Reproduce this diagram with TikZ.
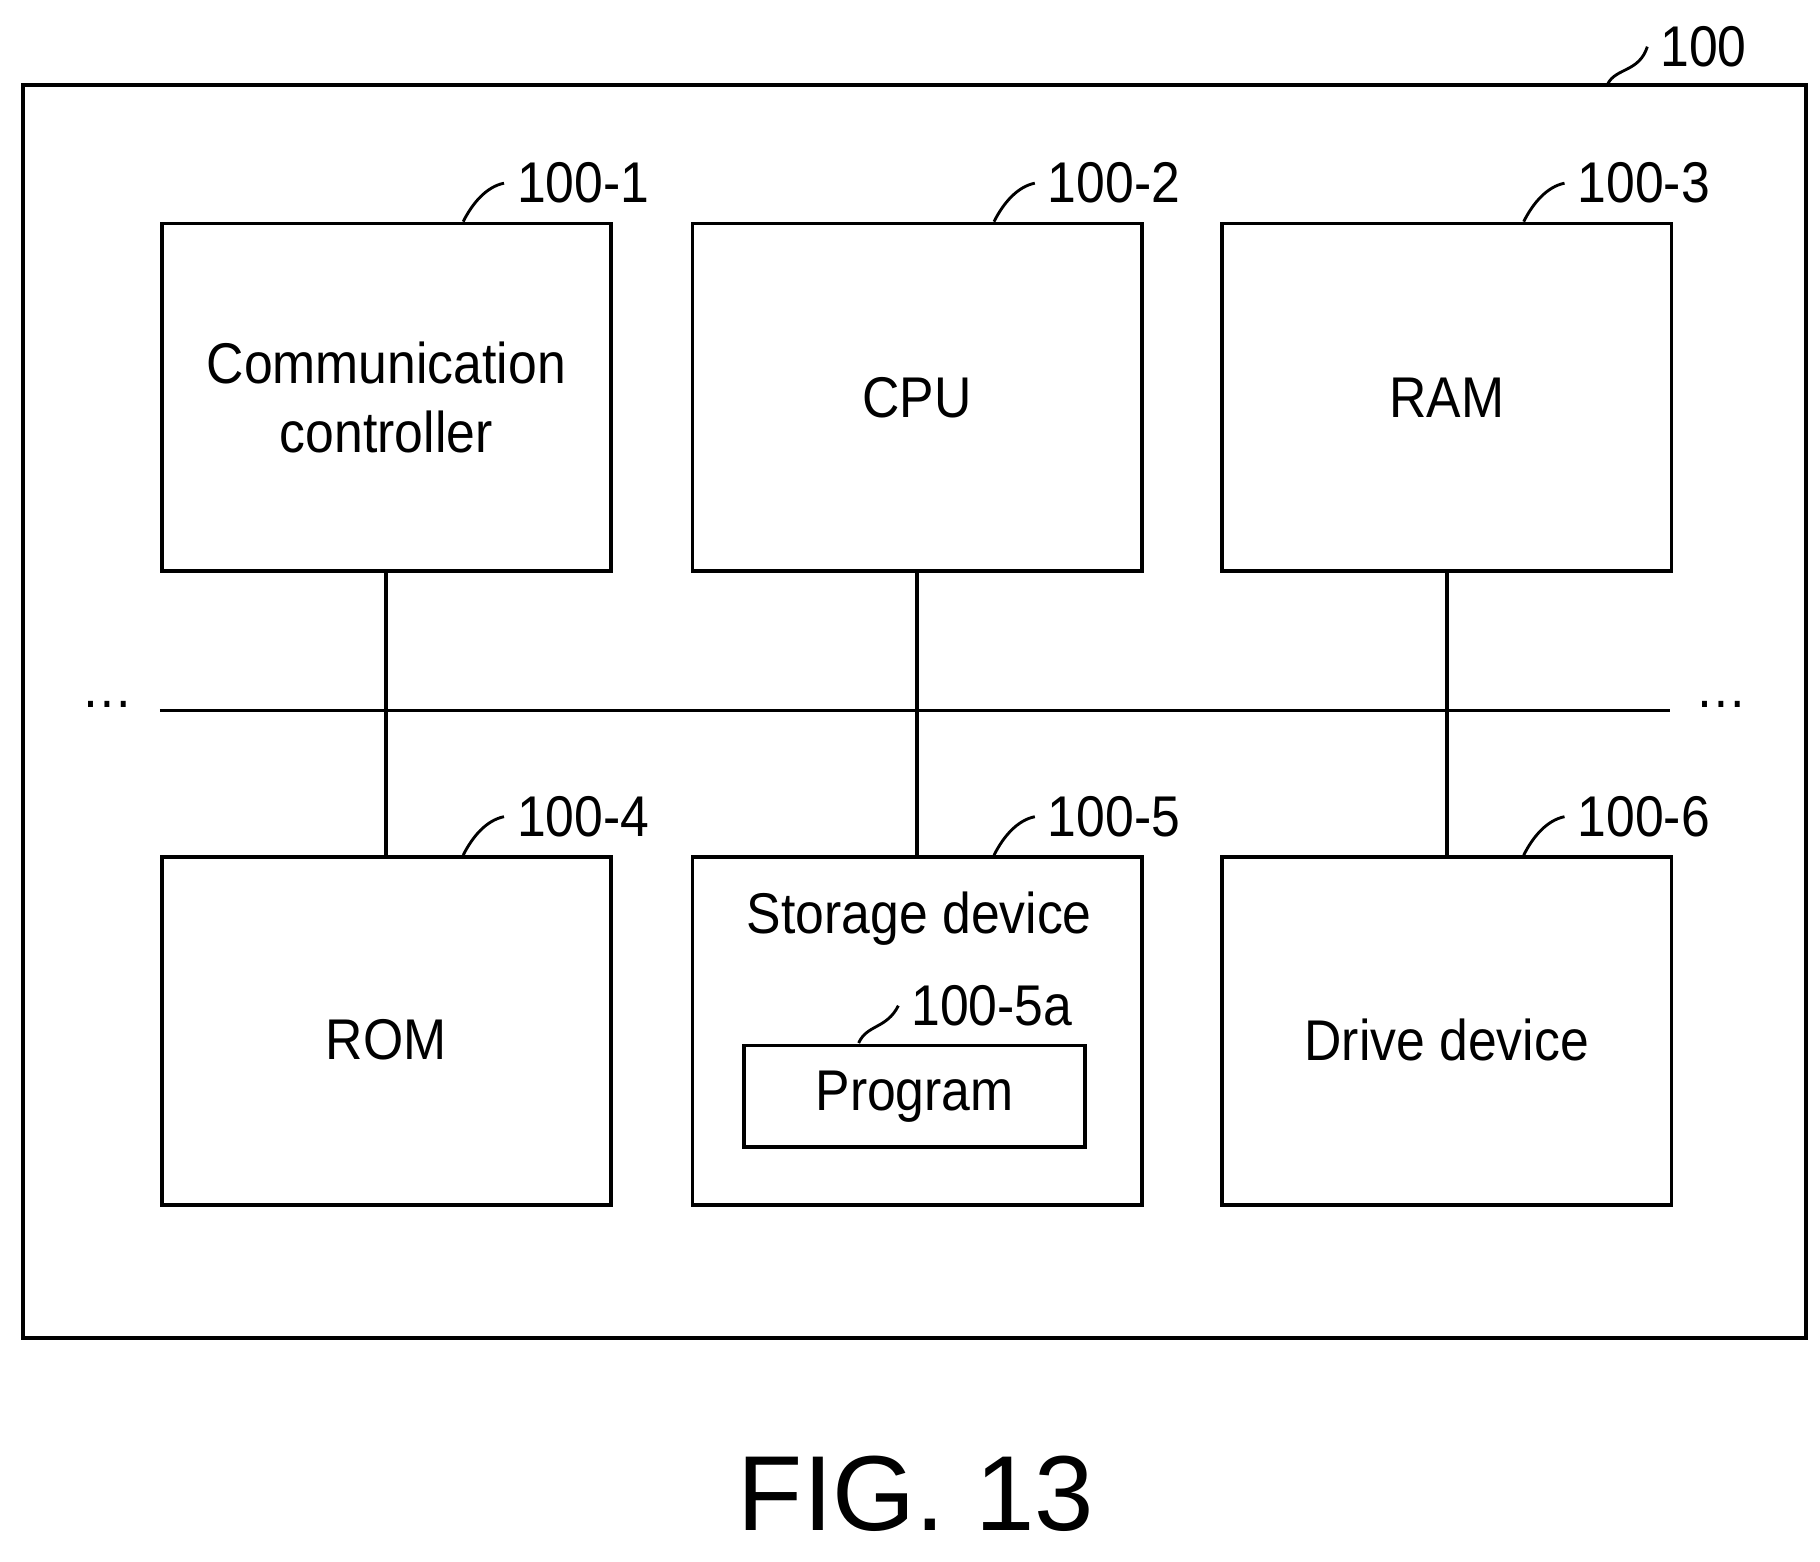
\documentclass[tikz,border=0pt]{standalone}
\usepackage{fontspec}
\setmainfont{Liberation Sans}
\usetikzlibrary{positioning}

\begin{document}
\begin{tikzpicture}[
    x=0.01cm, y=-0.01cm,
    every node/.style={font=\fontsize{14}{17}\selectfont, xscale=0.9},
    unit/.style={draw, line width=0.9pt, minimum width=385*0.01cm, minimum height=298*0.01cm, anchor=north west, inner sep=0pt, align=center, xscale=1/0.9},
    leader/.style={line width=0.7pt}
]
\useasboundingbox (0,0) rectangle (1560,1338);

% Outer frame
\draw[line width=0.9pt] (20,73) rectangle (1548,1147);
\node[anchor=west] (lbl0) at (1412,40) {100};
\draw[leader] (1378,72) .. controls (1385,58) and (1405,62) .. (lbl0.west);

% Units
\node[unit] (comm) at (137,190) {};
\node[unit] (cpu)  at (592,190) {};
\node[unit] (ram)  at (1046,190) {};
\node[unit] (rom)  at (137,733) {};
\node[unit] (stor) at (592,733) {};
\node[unit] (drv)  at (1046,733) {};
\node[align=center] (commtxt) at (comm.center) {Communication\\controller};
\node (cputxt) at (cpu.center) {CPU};
\node (ramtxt) at (ram.center) {RAM};
\node (romtxt) at ([yshift=-8*0.01cm]rom.center) {ROM};
\node (drvtxt) at ([yshift=-8*0.01cm]drv.center) {Drive device};
\node[anchor=north] (stortxt) at (788,752) {Storage device};
\draw[line width=0.9pt] (638,896) rectangle (930,983);
\node (prog) at (784,940) {Program};

% Reference labels
\foreach \n/\t in {comm/100-1, cpu/100-2, ram/100-3, rom/100-4, stor/100-5, drv/100-6}{
  \node[anchor=west] (lbl-\n) at ([xshift=295*0.01cm, yshift=33*0.01cm]\n.north west) {\t};
  \draw[leader] ([xshift=260*0.01cm]\n.north west) .. controls +(8,-16) and +(-15,3) .. (lbl-\n.west);
}
\node[anchor=west] (lblp) at (770,862) {100-5a};
\draw[leader] (736,894) .. controls (743,878) and (760,882) .. (lblp.west);

% Bus
\coordinate (busl) at (137,609);
\coordinate (busr) at (1431,609);
\draw[line width=0.9pt] (busl) -- (busr);
\node (dl) at (92,604) {\dots};
\node (dr) at (1475,604) {\dots};
\foreach \a/\b in {comm/rom, cpu/stor, ram/drv}{
  \draw[line width=0.9pt] (\a.south) -- (\b.north);
}

\node[xscale=1/0.9] (fig) at (785,1280) {\fontsize{26}{30}\selectfont FIG. 13};
\end{tikzpicture}
\end{document}
